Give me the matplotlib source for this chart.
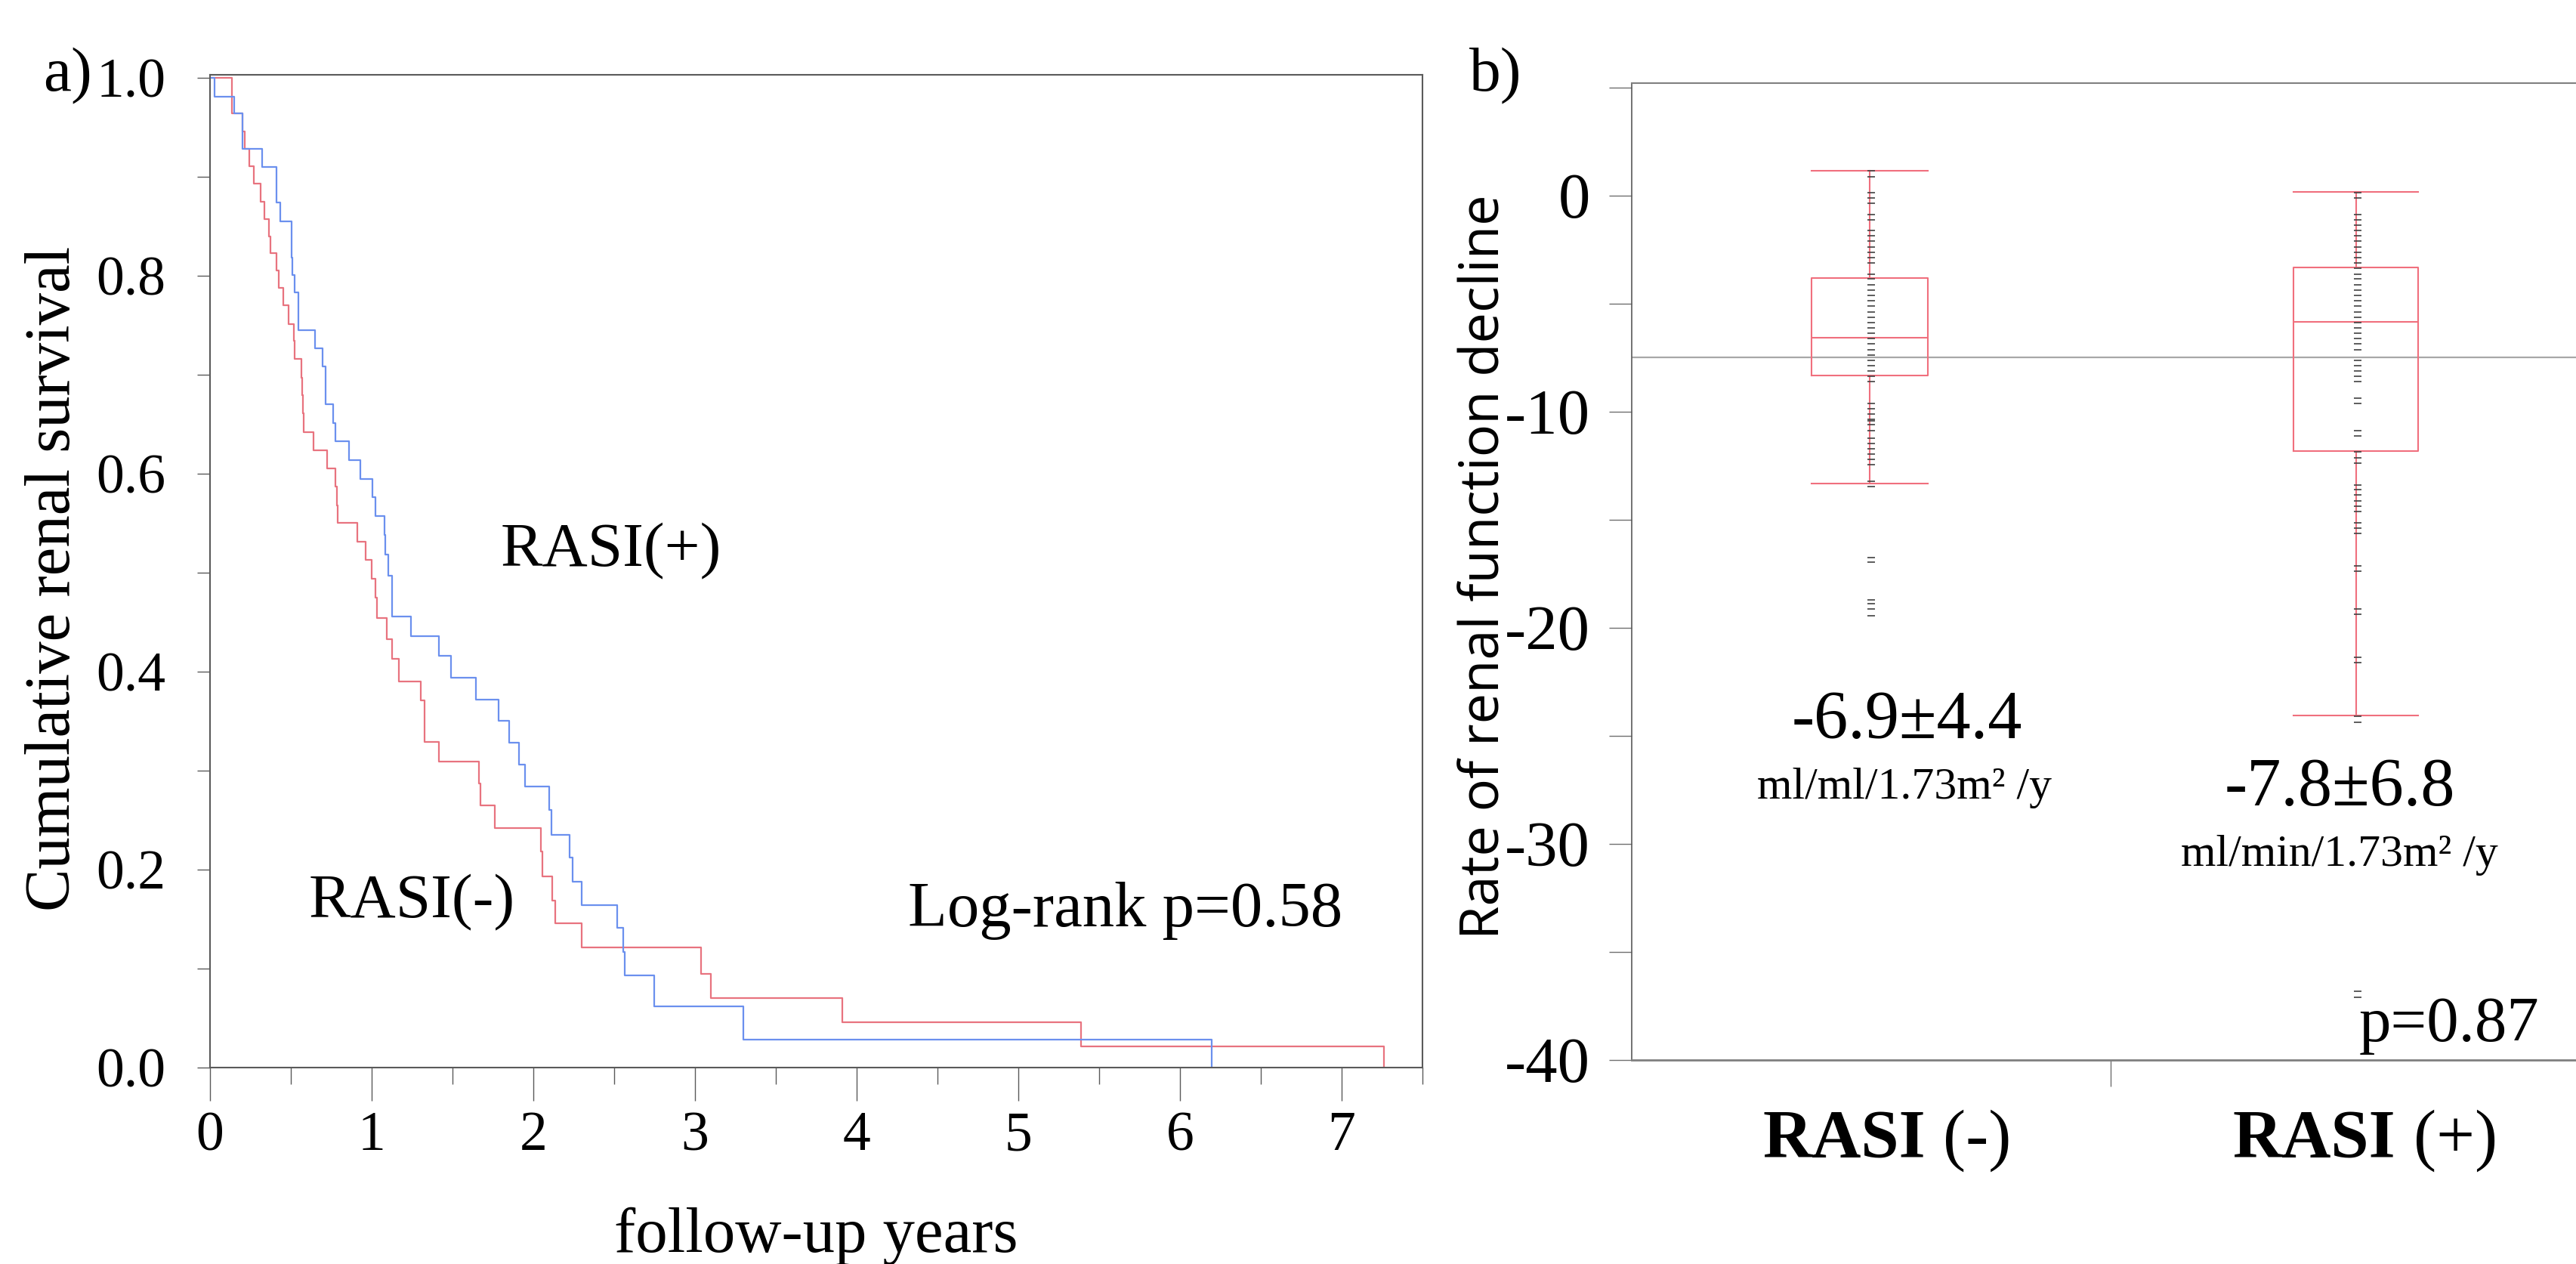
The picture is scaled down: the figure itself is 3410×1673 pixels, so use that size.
import matplotlib
matplotlib.use('Agg')
import matplotlib.pyplot as plt
from matplotlib.ticker import MultipleLocator, FixedLocator, FormatStrFormatter

plt.rcParams['font.family'] = ['Liberation Serif', 'DejaVu Serif']
plt.rcParams['axes.unicode_minus'] = False

# ---------------- data: Kaplan-Meier (panel a) ----------------
km_labels = ['RASI(+)', 'RASI(-)']
time_pos = [0, 0.03, 0.151, 0.199, 0.322, 0.410, 0.436, 0.503, 0.507, 0.511, 0.525, 0.545,
            0.650, 0.698, 0.716, 0.760, 0.776, 0.860, 0.928, 1.003, 1.025, 1.079, 1.086,
            1.101, 1.124, 1.245, 1.418, 1.492, 1.646, 1.783, 1.850, 1.913, 1.947, 2.097,
            2.110, 2.222, 2.245, 2.297, 2.521, 2.555, 2.567, 2.749, 3.299, 6.196]
surv_pos = [1.0, 0.981, 0.964, 0.928, 0.910, 0.874, 0.855, 0.836, 0.818, 0.801, 0.783, 0.745,
            0.727, 0.708, 0.670, 0.651, 0.633, 0.614, 0.595, 0.576, 0.557, 0.538, 0.518,
            0.497, 0.456, 0.436, 0.416, 0.394, 0.372, 0.350, 0.328, 0.306, 0.284, 0.260,
            0.235, 0.212, 0.188, 0.164, 0.141, 0.117, 0.093, 0.062, 0.028, 0.0]
time_neg = [0, 0.136, 0.203, 0.215, 0.241, 0.273, 0.313, 0.335, 0.365, 0.372, 0.410, 0.425,
            0.455, 0.488, 0.518, 0.524, 0.565, 0.570, 0.575, 0.581, 0.642, 0.724, 0.776,
            0.787, 0.791, 0.911, 0.964, 1.002, 1.025, 1.032, 1.093, 1.124, 1.169, 1.304,
            1.326, 1.329, 1.416, 1.665, 1.672, 1.764, 2.045, 2.055, 2.116, 2.137, 2.297,
            3.036, 3.096, 3.909, 5.386, 7.26]
surv_neg = [1.0, 0.964, 0.946, 0.928, 0.911, 0.893, 0.875, 0.857, 0.840, 0.823, 0.805, 0.788,
            0.770, 0.751, 0.734, 0.716, 0.697, 0.679, 0.661, 0.642, 0.624, 0.605, 0.587,
            0.568, 0.550, 0.531, 0.513, 0.494, 0.475, 0.454, 0.433, 0.413, 0.390, 0.371,
            0.350, 0.329, 0.309, 0.287, 0.265, 0.242, 0.218, 0.193, 0.169, 0.146, 0.121,
            0.095, 0.0705, 0.046, 0.021, 0.0]

# ---------------- data: rate of decline (panel b) ----------------
box_names = ['RASI', 'RASI']
box_signs = ['(-)', '(+)']
rate_neg = [1.13, 0.87, 0.13, -0.13, -0.38, -0.89, -1.13, -1.63, -1.88, -2.12, -2.38, -2.64,
            -2.88, -3.14, -3.64, -3.87, -4.13, -4.37, -4.63, -4.87, -5.13, -5.39, -5.63,
            -5.88, -6.12, -6.37, -6.63, -6.88, -7.13, -7.38, -7.63, -7.88, -8.13, -8.38,
            -8.63, -9.63, -9.87, -10.12, -10.37, -10.45, -10.62, -10.88, -11.23, -11.47,
            -11.73, -11.97, -12.22, -12.46, -13.22, -13.48, -16.76, -16.96, -18.71, -18.90,
            -19.15, -19.46]
rate_pos = [0.13, -0.13, -0.89, -1.13, -1.39, -1.63, -1.88, -2.12, -2.38, -2.64, -2.88, -3.14,
            -3.38, -3.64, -3.87, -4.13, -4.37, -4.63, -4.87, -5.13, -5.39, -5.63, -5.88,
            -6.12, -6.37, -6.63, -6.88, -7.13, -7.63, -7.88, -8.13, -8.38, -8.63, -9.38,
            -9.63, -10.88, -11.13, -11.88, -12.13, -12.38, -13.39, -13.63, -13.86, -14.13,
            -14.38, -14.62, -15.14, -15.40, -15.64, -17.14, -17.38, -19.13, -19.37, -21.38,
            -21.63, -24.12, -24.37, -36.82, -37.11]
box_whishi = [1.15, 0.16]
box_q3 = [-3.84, -3.35]
box_med = [-6.60, -5.84]
box_q1 = [-8.32, -11.82]
box_whislo = [-13.35, -24.07]
grand_mean = -7.5
summary_text = ['-6.9\u00b14.4', '-7.8\u00b16.8']
unit_text = ['ml/ml/1.73m\u00b2 /y', 'ml/min/1.73m\u00b2 /y']

# ---------------- figure ----------------
W, H = 3410, 1673
fig = plt.figure(figsize=(W / 100, H / 100), dpi=100)


def fx(x):
    return x / W


def fy(y):
    return 1 - y / H


RED = '#e8737f'
BLUE = '#6b90ee'
BOXC = '#f06f7d'
AXC = '#5a5a5a'

# ---- panel a ----
ax1 = fig.add_axes([fx(278), fy(1413), 1605 / W, (1413 - 99) / H])
ax1.plot(time_neg, surv_neg, drawstyle='steps-post', color=RED, lw=1.6)
ax1.plot(time_pos, surv_pos, drawstyle='steps-post', color=BLUE, lw=1.6)
ax1.set_xlim(0, 7.5)
ax1.set_ylim(0, 1.003)
for s in ax1.spines.values():
    s.set_color(AXC)
    s.set_linewidth(1.5)
ax1.xaxis.set_major_locator(MultipleLocator(1))
ax1.xaxis.set_minor_locator(MultipleLocator(0.5))
ax1.yaxis.set_major_locator(MultipleLocator(0.2))
ax1.yaxis.set_minor_locator(MultipleLocator(0.1))
ax1.yaxis.set_major_formatter(FormatStrFormatter('%.1f'))
ax1.tick_params(axis='x', which='major', direction='out', length=31.5, width=1.0, color=AXC,
                labelsize=53, pad=10)
ax1.tick_params(axis='x', which='minor', direction='out', length=16, width=1.0, color=AXC)
ax1.tick_params(axis='y', which='both', direction='out', length=12, width=1.0, color=AXC)
ax1.tick_params(axis='y', which='major', labelsize=53, pad=30)

fig.text(fx(89), fy(120), 'a)', fontsize=60, ha='center', va='baseline')
fig.text(fx(72), fy(766), 'Cumulative renal survival', fontsize=61, rotation=90,
         ha='center', va='center')
fig.text(fx(1080), fy(1657), 'follow-up years', fontsize=61, ha='center', va='baseline')
fig.text(fx(809), fy(749), km_labels[0], fontsize=60, ha='center', va='baseline')
fig.text(fx(545), fy(1214), km_labels[1], fontsize=60, ha='center', va='baseline')
fig.text(fx(1490), fy(1226), 'Log-rank p=0.58', fontsize=61, ha='center', va='baseline')

# ---- panel b ----
ax2 = fig.add_axes([fx(2160), fy(1402.6), 1268 / W, (1402.6 - 109.9) / H])
ax2.set_xlim(0, 2)
ax2.set_ylim(-40, 5.2)
ax2.axhline(grand_mean, color='#a8a8a8', lw=1.6, zorder=1)
pos = [0.497, 1.512]
wid = [0.243, 0.260]
stats = []
for i in range(2):
    stats.append(dict(med=box_med[i], q1=box_q1[i], q3=box_q3[i],
                      whislo=box_whislo[i], whishi=box_whishi[i], fliers=[]))
lp = dict(color=BOXC, lw=1.5)
ax2.bxp(stats, positions=pos, widths=wid, capwidths=wid, showfliers=False,
        boxprops=lp, whiskerprops=lp, capprops=lp, medianprops=lp, manage_ticks=False)
ax2.plot([0.500] * len(rate_neg), rate_neg, ls='none', marker='_', ms=7.5, mew=1.4,
         color='#404040', alpha=0.85, zorder=3)
ax2.plot([1.516] * len(rate_pos), rate_pos, ls='none', marker='_', ms=7.5, mew=1.4,
         color='#404040', alpha=0.85, zorder=3)
ax2.spines['right'].set_visible(False)
ax2.spines['left'].set_color(AXC)
ax2.spines['left'].set_linewidth(1.2)
ax2.spines['top'].set_color('#808080')
ax2.spines['top'].set_linewidth(1.5)
ax2.spines['bottom'].set_color('#808080')
ax2.spines['bottom'].set_linewidth(2.0)
ax2.yaxis.set_major_locator(FixedLocator([0, -10, -20, -30, -40]))
ax2.yaxis.set_minor_locator(FixedLocator([5, -5, -15, -25, -35]))
ax2.tick_params(axis='y', which='both', direction='out', length=21.5, width=1.0, color='#707070')
ax2.tick_params(axis='y', which='major', labelsize=61, pad=18)
ax2.set_xticks([1])
ax2.set_xticklabels([''])
ax2.tick_params(axis='x', direction='out', length=25, width=1.0, color='#707070')

fig.text(fx(1980), fy(120), 'b)', fontsize=60, ha='center', va='baseline')
fig.text(fx(1966), fy(750), 'Rate of renal function decline', fontsize=52, rotation=90,
         ha='center', va='center', family=['Open Sans', 'DejaVu Sans'])
fig.text(fx(2524), fy(977), summary_text[0], fontsize=65, ha='center', va='baseline')
fig.text(fx(2521), fy(1057), unit_text[0], fontsize=43, ha='center', va='baseline')
fig.text(fx(3097), fy(1066), summary_text[1], fontsize=65, ha='center', va='baseline')
fig.text(fx(3097), fy(1146), unit_text[1], fontsize=43, ha='center', va='baseline')
fig.text(fx(3123), fy(1378), 'p=0.87', fontsize=61, ha='left', va='baseline')
# category labels: bold name + regular sign
name_left = [2333, 2955]
sign_left = [2572, 3195]
for i in range(2):
    fig.text(fx(name_left[i]), fy(1532), box_names[i], fontsize=65, fontweight='bold',
             ha='left', va='baseline')
    fig.text(fx(sign_left[i]), fy(1532), box_signs[i], fontsize=65,
             ha='left', va='baseline')

fig.savefig('out.png', dpi=100, facecolor='white')
